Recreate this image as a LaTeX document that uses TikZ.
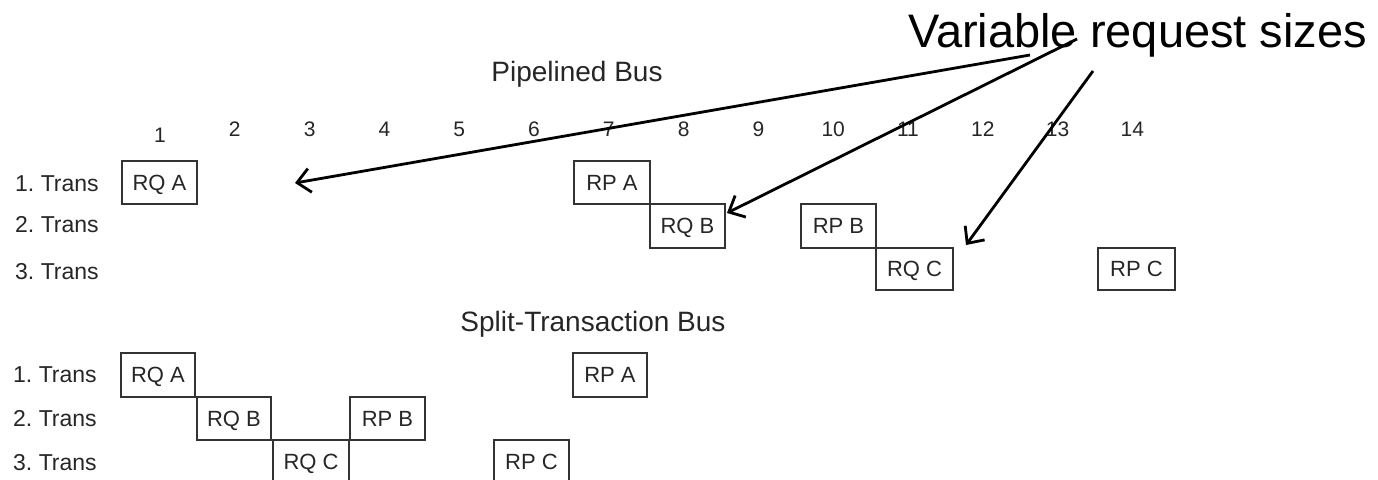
\documentclass[tikz,border=0pt]{standalone}
\usepackage{fontspec}
\setmainfont{Liberation Sans}
\usetikzlibrary{arrows.meta}
\frenchspacing
\definecolor{ink}{HTML}{262626}
\definecolor{frame}{HTML}{333333}
\tikzset{
  lbl/.style={font=\fontsize{23}{27}\selectfont, text=ink, inner sep=0pt},
  num/.style={font=\fontsize{21}{25}\selectfont, text=ink, inner sep=0pt},
  ttl/.style={font=\fontsize{28}{32}\selectfont, text=ink, inner sep=0pt},
  tbox/.style={draw=frame, line width=2pt, inner sep=0pt, font=\fontsize{22}{26}\selectfont, text=ink,
               text height=16pt, text depth=1pt,
               minimum width=75pt, minimum height=43pt},
  callout/.style={draw=black, line width=2.8pt, -{Straight Barb[length=13pt,width=24pt,line width=2.8pt]}}
}
\begin{document}
\begin{tikzpicture}[x=1pt,y=-1pt]
\clip (0,0) rectangle (1378,479);
\useasboundingbox (0,0) rectangle (1378,479);

% headline
\node[font=\fontsize{47}{54}\selectfont, text=black, inner sep=0pt, anchor=base west] (head) at (908,47) {Variable request sizes};

% titles
\node[ttl, anchor=base] (pbus) at (577,81) {Pipelined Bus};
\node[ttl, anchor=base] (sbus) at (593,331) {Split-Transaction Bus};

% column numbers
\node[num] (c1) at (160,135) {1};
\foreach \n in {2,...,14} {
  \node[num] (c\n) at ({160+(\n-1)*74.8},129) {\n};
}

% row labels (top)
\node[lbl, anchor=west] (pt1) at (15,184) {1. Trans};
\node[lbl, anchor=west] (pt2) at (15,225) {2. Trans};
\node[lbl, anchor=west] (pt3) at (15,272) {3. Trans};

% row labels (bottom)
\node[lbl, anchor=west] (st1) at (13,375) {1. Trans};
\node[lbl, anchor=west] (st2) at (13,419) {2. Trans};
\node[lbl, anchor=west] (st3) at (13,463) {3. Trans};

% pipelined boxes
\node[tbox] (pRQA) at (159.5,182.5) {RQ A};
\node[tbox, minimum width=76pt] (pRPA) at (612,182.5) {RP A};
\node[tbox, minimum height=44pt] (pRQB) at (687.5,226) {RQ B};
\node[tbox, minimum height=44pt] (pRPB) at (838.5,226) {RP B};
\node[tbox, minimum width=77pt, minimum height=42pt] (pRQC) at (914.5,269) {RQ C};
\node[tbox, minimum width=77pt, minimum height=42pt] (pRPC) at (1136.5,269) {RP C};

% split-transaction boxes
\node[tbox, minimum width=74pt, minimum height=44pt] (sRQA) at (158,375) {RQ A};
\node[tbox, minimum width=74pt, minimum height=44pt] (sRPA) at (610,375) {RP A};
\node[tbox, minimum width=74pt] (sRQB) at (234,418.5) {RQ B};
\node[tbox] (sRPB) at (387.5,418.5) {RP B};
\node[tbox, minimum width=76pt, minimum height=44pt] (sRQC) at (311,462) {RQ C};
\node[tbox, minimum height=44pt] (sRPC) at (531.5,462) {RP C};

% callout arrows
\coordinate (s1) at (1030,55);
\coordinate (s2) at (1077,39);
\coordinate (s3) at (1093,71);
\coordinate (e1) at (295,183);
\coordinate (e2) at (727,213);
\coordinate (e3) at (966,245);
\draw[callout] (s1) -- (e1);
\draw[callout] (s2) -- (e2);
\draw[callout] (s3) -- (e3);
\end{tikzpicture}
\end{document}
